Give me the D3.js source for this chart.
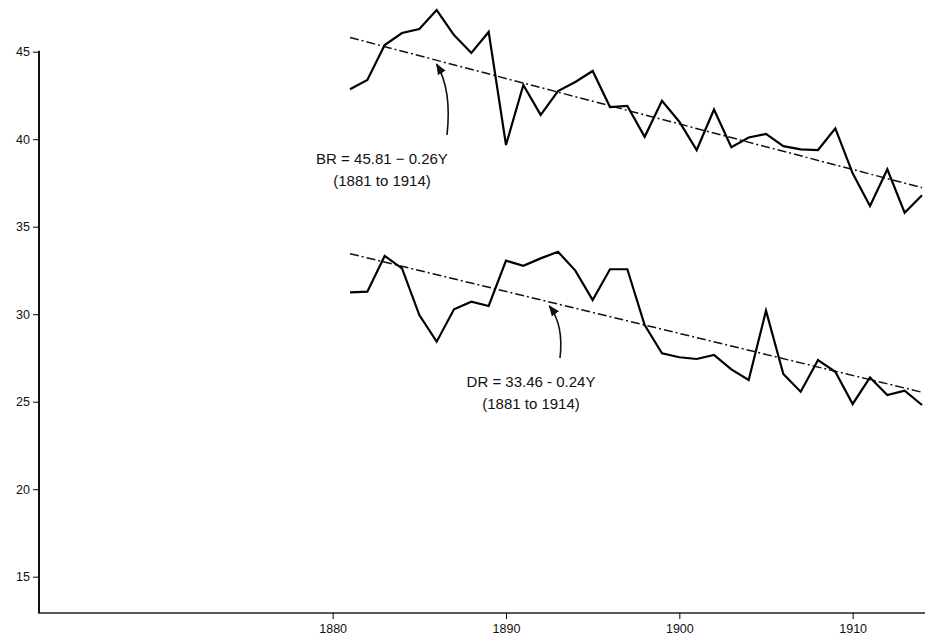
<!DOCTYPE html>
<html>
<head>
<meta charset="utf-8">
<script src="https://cdn.jsdelivr.net/npm/d3@7"></script>
<style>
  html, body { margin: 0; padding: 0; background: #fff; }
  svg { display: block; }
  text { font-family: "Liberation Sans", Arial, sans-serif; fill: #111; }
</style>
</head>
<body>
<svg id="chart" width="925" height="640"></svg>
<script>
// Crude birth rate (BR) and death rate (DR) per 1000, 1881–1914
const years = d3.range(1881, 1915);
const birthRate = [
  42.85, 43.38, 45.38, 46.07, 46.3, 47.38, 45.95, 44.93, 46.13, 39.67,
  43.1, 41.39, 42.75, 43.27, 43.9, 41.84, 41.9, 40.14, 42.2, 41.0,
  39.38, 41.7, 39.54, 40.1, 40.3, 39.6, 39.42, 39.38, 40.62, 38.05,
  36.18, 38.28, 35.8, 36.8
];
const deathRate = [
  31.25, 31.29, 33.33, 32.62, 29.95, 28.43, 30.28, 30.71, 30.47, 33.06,
  32.77, 33.19, 33.57, 32.49, 30.81, 32.57, 32.57, 29.38, 27.77, 27.54,
  27.44, 27.67, 26.85, 26.24, 30.2, 26.58, 25.57, 27.38, 26.71, 24.87,
  26.39, 25.38, 25.63, 24.81
];

// Fitted linear trends, Y = years since 1881
const trends = [
  { name: "BR", a: 45.81, b: 0.26, sign: "\u2212" },
  { name: "DR", a: 33.46, b: 0.24, sign: "-" }
];
const yTicks = [15, 20, 25, 30, 35, 40, 45];
const xTicks = [1880, 1890, 1900, 1910];
const periodLabel = "(1881 to 1914)";

const svg = d3.select("#chart");

const x = d3.scaleLinear().domain([1881, 1914]).range([350, 922]);
const y = d3.scaleLinear().domain([45, 15]).range([51.7, 576.7]);

const axisX = 39;
const axisY = 613;

// Axes
svg.append("line")
  .attr("x1", axisX).attr("x2", axisX)
  .attr("y1", y(45) - 1).attr("y2", axisY)
  .attr("stroke", "#111").attr("stroke-width", 2);
svg.append("line")
  .attr("x1", axisX - 1).attr("x2", 925)
  .attr("y1", axisY).attr("y2", axisY)
  .attr("stroke", "#222").attr("stroke-width", 1.3);

const gy = svg.append("g")
  .attr("transform", `translate(${axisX},0)`)
  .call(d3.axisLeft(y).tickValues(yTicks).tickSize(6).tickPadding(3));
gy.select(".domain").remove();
gy.selectAll("text").style("font-size", "12.5px")
  .style("font-family", "'Liberation Sans', Arial, sans-serif");

const gx = svg.append("g")
  .attr("transform", `translate(0,${axisY})`)
  .call(d3.axisBottom(x).tickValues(xTicks).tickFormat(d3.format("d")).tickSize(6).tickPadding(5));
gx.select(".domain").remove();
gx.selectAll("text").style("font-size", "12.5px")
  .style("font-family", "'Liberation Sans', Arial, sans-serif");

// Trend lines (dash-dot)
trends.forEach(t => {
  const f = yr => t.a - t.b * (yr - 1881);
  svg.append("line")
    .attr("x1", x(1881)).attr("y1", y(f(1881)))
    .attr("x2", x(1914)).attr("y2", y(f(1914)))
    .attr("stroke", "#111").attr("stroke-width", 1.5)
    .attr("stroke-dasharray", "9,3,2,3");
});

// Observed series
const line = d3.line().x((d, i) => x(years[i])).y(d => y(d));
[birthRate, deathRate].forEach(series => {
  svg.append("path")
    .datum(series)
    .attr("d", line)
    .attr("fill", "none")
    .attr("stroke", "#000")
    .attr("stroke-width", 2.2)
    .attr("stroke-linejoin", "miter");
});

// Annotations with curved arrows pointing at the trend lines
const defs = svg.append("defs");
defs.append("marker")
  .attr("id", "head")
  .attr("viewBox", "0 0 10 10")
  .attr("refX", 9).attr("refY", 5)
  .attr("markerWidth", 7).attr("markerHeight", 7)
  .attr("orient", "auto")
  .append("path").attr("d", "M0,1 L10,5 L0,9 Z").attr("fill", "#111");

const notes = [
  { t: trends[0], tx: 382, ty: 164, yr: 1886, tail: [447, 135], ctrl: [452, 90] },
  { t: trends[1], tx: 531, ty: 387, yr: 1892.5, tail: [560, 358], ctrl: [564, 325] }
];
notes.forEach(n => {
  const f = yr => n.t.a - n.t.b * (yr - 1881);
  const hx = x(n.yr), hy = y(f(n.yr)) + 4;
  svg.append("path")
    .attr("d", `M${n.tail[0]},${n.tail[1]} Q${n.ctrl[0]},${n.ctrl[1]} ${hx},${hy}`)
    .attr("fill", "none").attr("stroke", "#111").attr("stroke-width", 1.6)
    .attr("marker-end", "url(#head)");
  const g = svg.append("text").attr("text-anchor", "middle").style("font-size", "15px");
  g.append("tspan").attr("x", n.tx).attr("y", n.ty)
    .text(`${n.t.name} = ${n.t.a.toFixed(2)} ${n.t.sign} ${n.t.b.toFixed(2)}Y`);
  g.append("tspan").attr("x", n.tx).attr("y", n.ty + 22).text(periodLabel);
});
</script>
</body>
</html>
